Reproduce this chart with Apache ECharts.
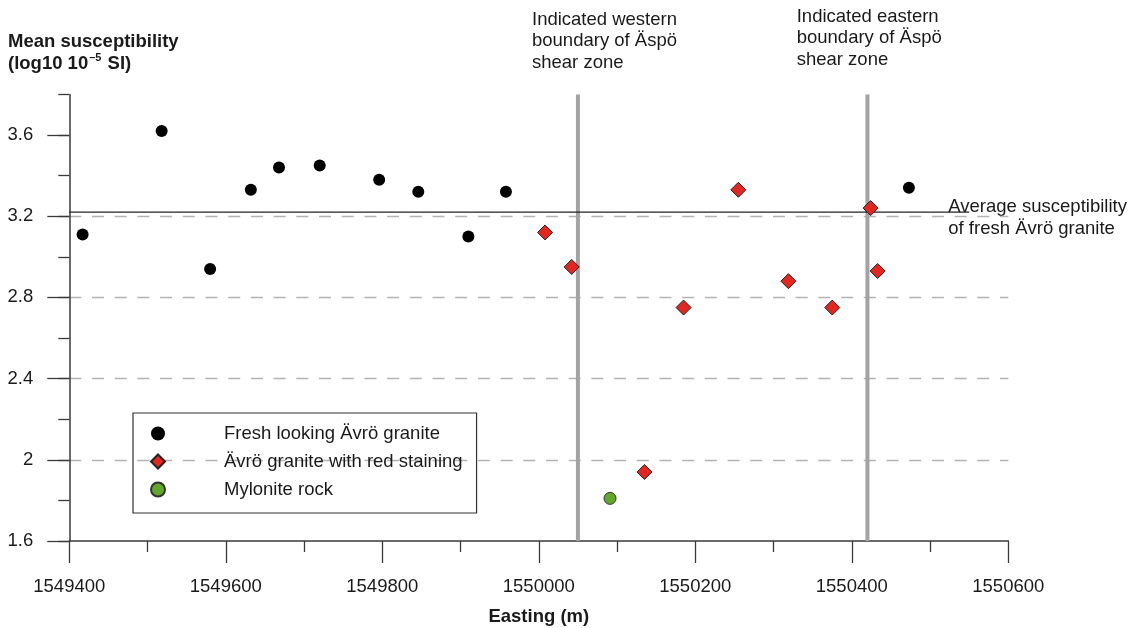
<!DOCTYPE html>
<html><head><meta charset="utf-8">
<script src="https://cdn.jsdelivr.net/npm/echarts@6/dist/echarts.min.js"></script>
<style>html,body{margin:0;padding:0;background:#fff}#c{width:1138px;height:628px}</style>
</head><body><div id="c"></div>
<script>
// ---- data ----
const freshX = [1549417,1549518,1549580,1549632,1549668,1549720,1549796,1549846,1549910,1549958,1550473];
const freshY = [3.11,3.62,2.94,3.33,3.44,3.45,3.38,3.32,3.10,3.32,3.34];
const redX = [1550008,1550042,1550135,1550185,1550255,1550319,1550375,1550424,1550433];
const redY = [3.12,2.95,1.94,2.75,3.33,2.88,2.75,3.24,2.93];
const myloX = [1550091];
const myloY = [1.81];
const boundaries = [1550050, 1550420];
const avgFresh = 3.22;
const avgLineX = [1549400, 1550550];
const xRange = [1549400, 1550600];
const yRange = [1.6, 3.8];
const yTicks = [1.6, 2, 2.4, 2.8, 3.2, 3.6];
const seriesNames = ['Fresh looking Ävrö granite', 'Ävrö granite with red staining', 'Mylonite rock'];

const FF = '"Liberation Sans", Arial, Helvetica, sans-serif';
const TXT = '#1a1a1a';
const AX = '#3a3a3a';
const zip = (xs, ys) => xs.map((x, i) => [x, ys[i]]);

const boundarySeries = boundaries.map(b => ({
  type: 'line', name: '_b' + b, z: 1, silent: true, symbol: 'none',
  lineStyle: {color: '#a3a3a3', width: 4},
  data: yRange.map(y => [b, y])
}));

const chart = echarts.init(document.getElementById('c'), null, {renderer: 'canvas'});
chart.setOption({
  animation: false,
  backgroundColor: '#fff',
  textStyle: {fontFamily: FF},
  grid: {left: 69.3, right: 129.7, top: 94.4, bottom: 87, containLabel: false, outerBoundsMode: 'none'},
  xAxis: {
    type: 'value', min: xRange[0], max: xRange[1], interval: 200,
    name: 'Easting (m)', nameLocation: 'middle', nameGap: 66,
    nameTextStyle: {fontSize: 18.5, fontWeight: 'bold', color: TXT, fontFamily: FF},
    axisLine: {show: true, onZero: false, lineStyle: {color: AX, width: 1.5}},
    axisTick: {show: true, length: 22, lineStyle: {color: AX, width: 1.3}},
    minorTick: {show: true, splitNumber: 2, length: 11, lineStyle: {color: AX, width: 1.3}},
    axisLabel: {fontSize: 18.5, color: TXT, margin: 36, fontFamily: FF, formatter: v => String(v)},
    splitLine: {show: false}
  },
  yAxis: [{
    type: 'value', min: yRange[0], max: yRange[1], interval: 0.4,
    axisLine: {show: true, onZero: false, lineStyle: {color: AX, width: 1.5}},
    axisTick: {show: true, length: 22, customValues: yTicks, lineStyle: {color: AX, width: 1.3}},
    axisLabel: {fontSize: 18.5, color: TXT, margin: 36, fontFamily: FF, customValues: yTicks,
      formatter: v => String(+(+v).toFixed(1))},
    splitLine: {show: true, showMinLine: false, showMaxLine: false,
      lineStyle: {color: '#b3b3b3', width: 1.3, type: [12, 10.7]}}
  }, {
    type: 'value', min: yRange[0], max: yRange[1], interval: 0.2, position: 'left',
    axisLine: {show: false},
    axisTick: {show: true, length: 11, lineStyle: {color: AX, width: 1.3}},
    axisLabel: {show: false},
    splitLine: {show: false}
  }],
  legend: {
    orient: 'vertical', left: 133, top: 413,
    padding: [11, 14, 14, 17], itemWidth: 14, itemHeight: 14, itemGap: 9,
    borderColor: '#333', borderWidth: 1.2, selectedMode: false,
    data: seriesNames,
    textStyle: {fontSize: 18.5, lineHeight: 18, color: TXT, fontFamily: FF, padding: [0, 0, 0, 54]}
  },
  graphic: [
    {type: 'text', left: 8, top: 32, style: {
      text: '{b|Mean susceptibility}\n{b|(log10 10}{s|–5}{b| SI)}',
      rich: {
        b: {fontSize: 18.5, fontWeight: 'bold', fontFamily: FF, fill: TXT, lineHeight: 22},
        s: {fontSize: 11, fontWeight: 'bold', fontFamily: FF, fill: TXT, lineHeight: 22, verticalAlign: 'top', padding: [0, 1, 0, 1]}
      }}},
    {type: 'text', left: 532, top: 9, style: {
      text: 'Indicated western\nboundary of Äspö\nshear zone',
      font: '18.5px ' + FF, fill: TXT, lineHeight: 21.5}},
    {type: 'text', left: 796.7, top: 6, style: {
      text: 'Indicated eastern\nboundary of Äspö\nshear zone',
      font: '18.5px ' + FF, fill: TXT, lineHeight: 21.5}},
    {type: 'text', left: 948.3, top: 196, style: {
      text: 'Average susceptibility\nof fresh Ävrö granite',
      font: '18.5px ' + FF, fill: TXT, lineHeight: 22}}
  ],
  series: [
    ...boundarySeries,
    {
      type: 'line', name: '_avg', z: 2, silent: true, symbol: 'none',
      lineStyle: {color: '#222', width: 1.2},
      data: avgLineX.map(x => [x, avgFresh])
    },
    {
      type: 'scatter', name: seriesNames[0], z: 3, symbol: 'circle', symbolSize: 12,
      itemStyle: {color: '#000', opacity: 1},
      data: zip(freshX, freshY)
    },
    {
      type: 'scatter', name: seriesNames[1], z: 4, symbol: 'diamond', symbolSize: 15,
      itemStyle: {color: '#e42620', borderColor: '#222', borderWidth: 1, opacity: 1},
      data: zip(redX, redY)
    },
    {
      type: 'scatter', name: seriesNames[2], z: 4, symbol: 'circle', symbolSize: 12,
      itemStyle: {color: '#5fa82a', borderColor: '#333', borderWidth: 1, opacity: 1},
      data: zip(myloX, myloY)
    }
  ]
});
</script></body></html>
